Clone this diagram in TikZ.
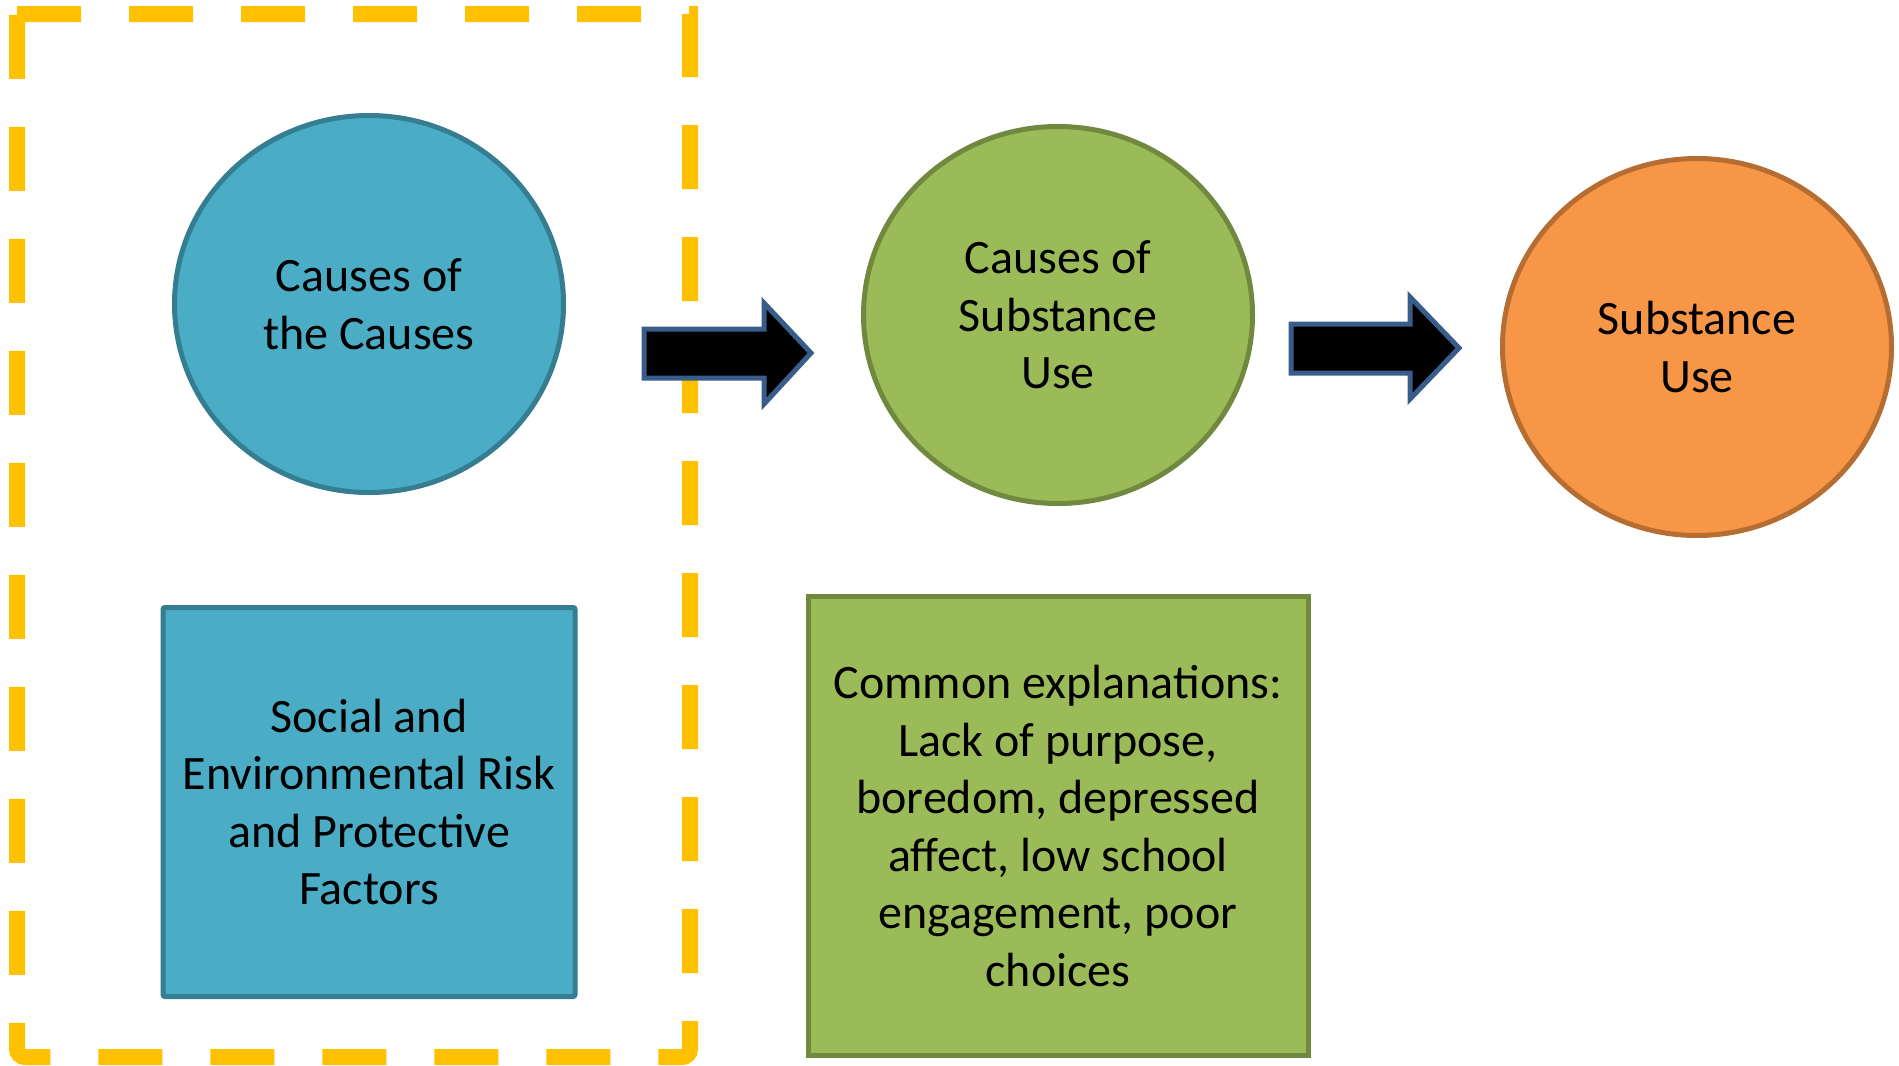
\documentclass[tikz,border=0pt]{standalone}
\usepackage{fontspec}
\setmainfont{Carlito}
\usepackage{xcolor}
\definecolor{causeblue}{HTML}{4BACC6}
\definecolor{causeblueline}{HTML}{357D91}
\definecolor{usegreen}{HTML}{9BBB59}
\definecolor{usegreenline}{HTML}{71893F}
\definecolor{useorange}{HTML}{F79646}
\definecolor{useorangeline}{HTML}{B66D31}
\definecolor{frameyellow}{HTML}{FFC000}
\definecolor{arrowline}{HTML}{385D8A}
\usetikzlibrary{positioning, shapes.geometric}

\begin{document}
\begin{tikzpicture}[x=1pt, y=-1pt,
    bubble/.style={ellipse, draw, line width=5pt, inner sep=0pt,
      minimum width=389pt, minimum height=377pt, align=center,
      font=\fontsize{48}{57.5}\selectfont},
    panel/.style={rectangle, draw, line width=5pt, inner sep=0pt,
      align=center, font=\fontsize{48}{57.5}\selectfont},
    blockarrow/.style={draw=arrowline, fill=black, line width=5pt, line join=miter}
]
\useasboundingbox (0,0) rectangle (1899,1066);

% dashed frame round the first column
\draw[frameyellow, line width=16pt, dash pattern=on 64pt off 48pt]
  (17,14) -- (690,14) -- (690,600) [rounded corners=8pt] -- (690,1057)
  -- (17,1057) -- (17,600) [sharp corners] -- (17,14);

\node[bubble, fill=causeblue, draw=causeblueline] (c1) at (369,304)
  {Causes of\\the Causes};
\node[bubble, fill=usegreen, draw=usegreenline] (c2) at (1058,315)
  {Causes of\\Substance\\Use};
\node[bubble, fill=useorange, draw=useorangeline] (c3) at (1697,347)
  {Substance\\Use};

\node[panel, fill=causeblue, draw=causeblueline, rounded corners=2pt,
  minimum width=412pt, minimum height=389pt, below=110pt of c1] (p1)
  {Social and\\Environmental Risk\\and Protective\\Factors};
\node[panel, fill=usegreen, draw=usegreenline,
  minimum width=500pt, minimum height=459pt, below=88pt of c2] (p2)
  {Common explanations:\\Lack of purpose,\\boredom, depressed\\affect, low school\\engagement, poor\\choices};

% block arrows between the bubbles
\draw[blockarrow] (644,329) -- (764,329) -- (764,303) -- (811,353)
  -- (764,404) -- (764,378) -- (644,378) -- cycle;
\draw[blockarrow] (1291,324) -- (1410,324) -- (1410,297) -- (1459,348)
  -- (1410,399) -- (1410,373) -- (1291,373) -- cycle;
\end{tikzpicture}
\end{document}
